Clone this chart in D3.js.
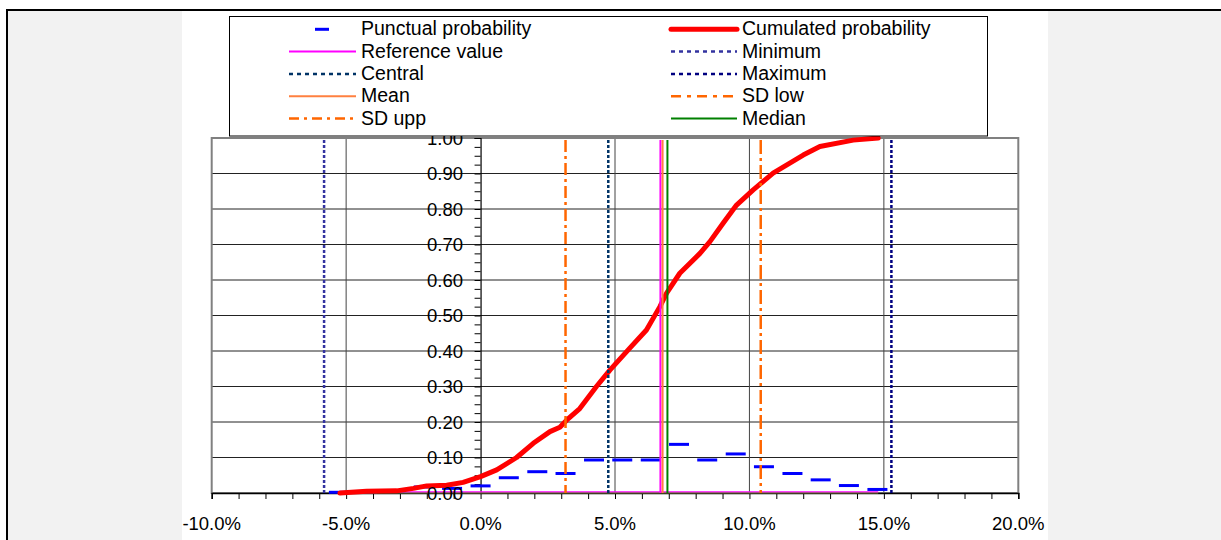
<!DOCTYPE html>
<html><head><meta charset="utf-8">
<script src="https://cdn.jsdelivr.net/npm/d3@7"></script>
<style>body{margin:0;background:#fff}svg{display:block;font-family:"Liberation Sans",Arial,sans-serif}</style>
</head><body><svg id="c" width="1221" height="540"></svg>
<script>
// ---- data ----
const xTickValues = [-10, -5, 0, 5, 10, 15, 20];
const xTickLabels = ["-10.0%", "-5.0%", "0.0%", "5.0%", "10.0%", "15.0%", "20.0%"];
const yTickValues = [0, 0.1, 0.2, 0.3, 0.4, 0.5, 0.6, 0.7, 0.8, 0.9, 1.0];
const yTickLabels = ["0.00", "0.10", "0.20", "0.30", "0.40", "0.50", "0.60", "0.70", "0.80", "0.90", "1.00"];

// punctual probability (bin centres in %, probability)
const punctualX = [-5.27, -4.22, -3.17, -2.11, -1.06, 0.00, 1.05, 2.11, 3.16, 4.22, 5.27, 6.33, 7.38, 8.43, 9.49, 10.54, 11.60, 12.65, 13.70, 14.76];
const punctualP = [0.002, 0.003, 0.004, 0.017, 0.013, 0.020, 0.043, 0.060, 0.055, 0.093, 0.093, 0.093, 0.137, 0.093, 0.110, 0.074, 0.055, 0.037, 0.021, 0.010];

// cumulated probability
const cumulatedX = [-5.23, -4.24, -3.12, -2.5, -2.0, -1.26, -0.65, 0.0, 0.6, 1.34, 1.96, 2.58, 2.95, 3.2, 3.69, 4.31, 4.81, 5.55, 6.17, 6.67, 6.92, 7.41, 8.16, 8.53, 9.02, 9.52, 10.14, 10.88, 12.0, 12.62, 13.86, 14.79];
const cumulatedP = [0.0, 0.005, 0.006, 0.013, 0.02, 0.022, 0.03, 0.046, 0.065, 0.10, 0.14, 0.173, 0.185, 0.205, 0.238, 0.30, 0.346, 0.408, 0.459, 0.525, 0.563, 0.619, 0.675, 0.708, 0.76, 0.811, 0.854, 0.901, 0.952, 0.976, 0.994, 1.0];

// vertical reference lines (value in %)
const refNames  = ["Minimum", "Central", "Maximum", "SD upp", "SD low", "Reference value", "Mean", "Median"];
const refValues = [-5.82, 4.75, 15.28, 3.16, 10.42, 6.69, 6.77, 6.95];

// ---- styles ----
const styles = {
  "Punctual probability": {color: "#0000ff", width: 3, dash: null},
  "Cumulated probability": {color: "#ff0000", width: 5, dash: null},
  "Reference value": {color: "#ff00ff", width: 2, dash: null},
  "Minimum": {color: "#3333a0", width: 2.5, dash: "3,2"},
  "Central": {color: "#003366", width: 2.5, dash: "3,2"},
  "Maximum": {color: "#000080", width: 2.5, dash: "3,2"},
  "Mean": {color: "#ff8040", width: 2, dash: null},
  "SD low": {color: "#ff6600", width: 2.5, dash: "14,4,3,4"},
  "SD upp": {color: "#ff6600", width: 2.5, dash: "12,4,3,4"},
  "Median": {color: "#008000", width: 2, dash: null}
};
const legendDash = {"Minimum": "4,4", "Central": "4,4", "Maximum": "4,4", "SD low": "10,6,4,6", "SD upp": "10,5,3,5"};

const svg = d3.select("#c");
// background frame
svg.append("rect").attr("x", 8).attr("y", 11).attr("width", 174).attr("height", 540).attr("fill", "#f2f2f2");
svg.append("rect").attr("x", 1048).attr("y", 11).attr("width", 180).attr("height", 540).attr("fill", "#f2f2f2");
svg.append("rect").attr("x", 7).attr("y", 10).attr("width", 1300).attr("height", 600)
  .attr("fill", "none").attr("stroke", "#000").attr("stroke-width", 2);

const L = 211.7, R = 1018.3, T = 138, B = 493;
const x = d3.scaleLinear().domain([-10, 20]).range([L, R]);
const y = d3.scaleLinear().domain([0, 1]).range([B, T]);

const g = svg.append("g");
g.append("rect").attr("x", L).attr("y", T).attr("width", R - L).attr("height", B - T).attr("fill", "#fff");

// horizontal gridlines
g.append("g").selectAll("line").data(yTickValues).join("line")
  .attr("x1", L).attr("x2", R).attr("y1", d => y(d)).attr("y2", d => y(d))
  .attr("stroke", "#222").attr("stroke-width", 1);
// vertical gridlines
g.append("g").selectAll("line").data(xTickValues.filter(v => v > -10 && v < 20 && v !== 0)).join("line")
  .attr("x1", d => x(d)).attr("x2", d => x(d)).attr("y1", T).attr("y2", B)
  .attr("stroke", "#444").attr("stroke-width", 1);
// plot border
g.append("rect").attr("x", L).attr("y", T).attr("width", R - L).attr("height", B - T)
  .attr("fill", "none").attr("stroke", "#808080").attr("stroke-width", 2);

// x axis at y=0
const xAxis = d3.axisBottom(x).tickValues(d3.range(-10, 20.01, 1)).tickSize(6).tickFormat("");
const xa = g.append("g").attr("transform", `translate(0,${B})`).call(xAxis);
xa.select(".domain").attr("stroke", "#000").attr("stroke-width", 1.5);
xa.selectAll(".tick line").attr("stroke", "#000");
g.append("g").selectAll("text").data(xTickValues).join("text")
  .attr("x", d => x(d)).attr("y", 523).attr("text-anchor", "middle").attr("dominant-baseline", "central")
  .attr("font-size", 18.5).attr("fill", "#000").text((d, i) => xTickLabels[i]);

// y axis at x=0
const yAxis = d3.axisLeft(y).tickValues(d3.range(0, 1.0001, 0.025)).tickSize(6).tickFormat("");
const ya = g.append("g").attr("transform", `translate(${x(0)},0)`).call(yAxis);
ya.select(".domain").attr("stroke", "#000").attr("stroke-width", 1.2);
ya.selectAll(".tick line").attr("stroke", "#000");

// punctual probability dashes
const sp = styles["Punctual probability"];
g.append("g").selectAll("line").data(punctualX).join("line")
  .attr("x1", d => x(d) - 10).attr("x2", d => x(d) + 10)
  .attr("y1", (d, i) => y(punctualP[i])).attr("y2", (d, i) => y(punctualP[i]))
  .attr("stroke", sp.color).attr("stroke-width", sp.width);

// baseline series at y=0
g.append("line").attr("x1", x(cumulatedX[0])).attr("x2", x(cumulatedX[cumulatedX.length - 1]))
  .attr("y1", B - 1).attr("y2", B - 1).attr("stroke", "#ff00ff").attr("stroke-width", 1.5);
g.append("line").attr("x1", x(cumulatedX[0])).attr("x2", x(cumulatedX[cumulatedX.length - 1]))
  .attr("y1", B).attr("y2", B).attr("stroke", "#808040").attr("stroke-width", 1.2);

// cumulated probability
const sc = styles["Cumulated probability"];
g.append("path").datum(cumulatedX)
  .attr("d", d3.line().x(d => x(d)).y((d, i) => y(cumulatedP[i])))
  .attr("fill", "none").attr("stroke", sc.color).attr("stroke-width", sc.width)
  .attr("stroke-linejoin", "round").attr("stroke-linecap", "round");

// vertical reference lines
g.append("g").selectAll("line").data(refValues).join("line")
  .attr("x1", d => x(d)).attr("x2", d => x(d))
  .attr("y1", T + 2).attr("y2", B)
  .attr("stroke", (d, i) => styles[refNames[i]].color)
  .attr("stroke-width", (d, i) => styles[refNames[i]].width)
  .attr("stroke-dasharray", (d, i) => styles[refNames[i]].dash);

// y labels (drawn over)
g.append("g").selectAll("text").data(yTickValues).join("text")
  .attr("x", 463).attr("y", d => y(d)).attr("text-anchor", "end").attr("dominant-baseline", "central")
  .attr("font-size", 18.5).attr("fill", "#000").text((d, i) => yTickLabels[i]);

// legend
const lg = svg.append("g");
lg.append("rect").attr("x", 229.5).attr("y", 16.5).attr("width", 758).attr("height", 119.5)
  .attr("fill", "#fff").attr("stroke", "#000").attr("stroke-width", 1);
const leftCol = ["Punctual probability", "Reference value", "Central", "Mean", "SD upp"];
const rightCol = ["Cumulated probability", "Minimum", "Maximum", "SD low", "Median"];
const rowY = i => 29.3 + i * 22.3;
function legendCol(names, sx1, sx2, tx) {
  names.forEach((n, i) => {
    const s = styles[n];
    const yy = rowY(i);
    if (n === "Punctual probability") {
      lg.append("line").attr("x1", 315).attr("x2", 329).attr("y1", yy).attr("y2", yy)
        .attr("stroke", s.color).attr("stroke-width", 3);
    } else {
      const isCum = n === "Cumulated probability";
      lg.append("line").attr("x1", sx1).attr("x2", sx2).attr("y1", yy).attr("y2", yy)
        .attr("stroke", s.color).attr("stroke-width", isCum ? 5 : Math.min(s.width, 2.5))
        .attr("stroke-dasharray", legendDash[n] || null)
        .attr("stroke-linecap", isCum ? "round" : "butt");
    }
    lg.append("text").attr("x", tx).attr("y", yy - 1).attr("dominant-baseline", "central")
      .attr("font-size", 19.5).attr("fill", "#000").text(n);
  });
}
legendCol(leftCol, 289, 356, 361);
legendCol(rightCol, 671, 737, 742);
</script></body></html>
